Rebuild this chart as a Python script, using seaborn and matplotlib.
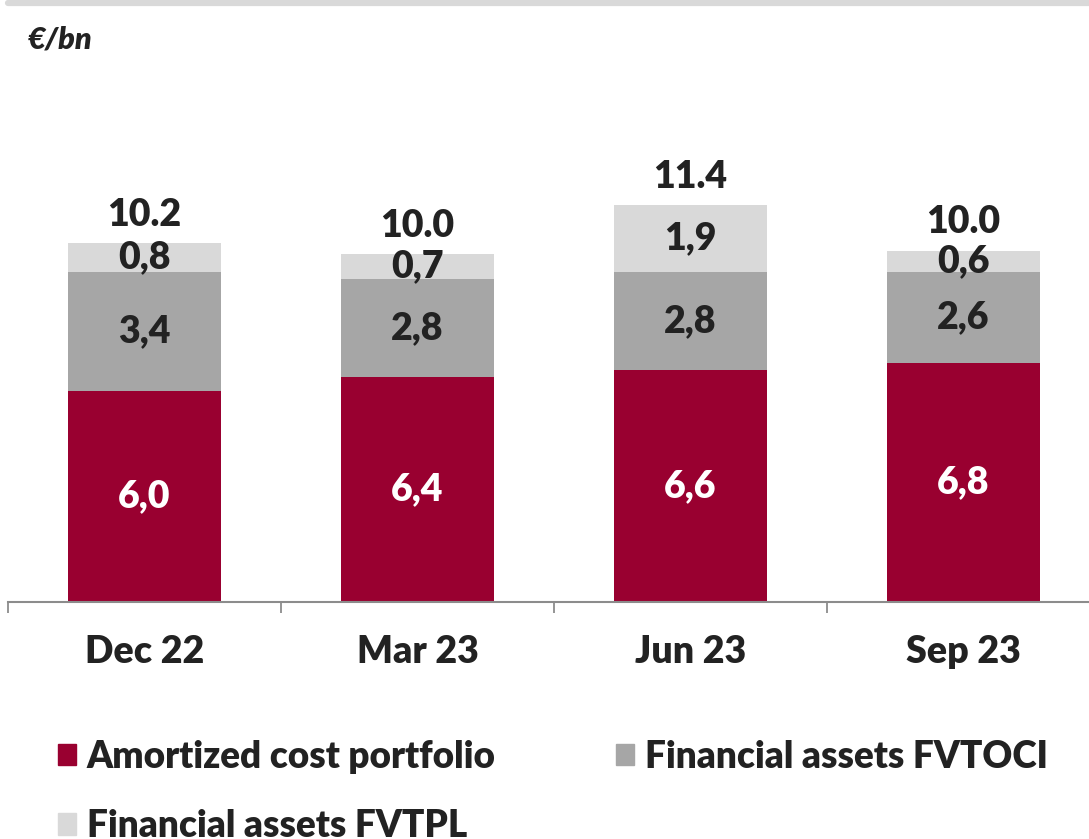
import matplotlib
matplotlib.use("Agg")
import numpy as np
import pandas as pd
import seaborn as sns
import matplotlib.pyplot as plt
from matplotlib.patches import Patch
from matplotlib.lines import Line2D

# dati
periods = ["Dec 22", "Mar 23", "Jun 23", "Sep 23"]
amortized = [6.0, 6.4, 6.6, 6.8]
fvtoci = [3.4, 2.8, 2.8, 2.6]
fvtpl = [0.8, 0.7, 1.9, 0.6]
totals = ["10.2", "10.0", "11.4", "10.0"]
series_names = ["Amortized cost portfolio", "Financial assets FVTOCI", "Financial assets FVTPL"]

red = "#990030"
mid_gray = "#a6a6a6"
light_gray = "#d9d9d9"
txt = "#222222"

sns.set_theme(style="white")
plt.rcParams["font.family"] = ["Lato", "DejaVu Sans"]
plt.rcParams["font.weight"] = "heavy"
W = "heavy"

df = pd.DataFrame({"period": periods, "a": amortized, "b": fvtoci, "c": fvtpl})
df["ab"] = df["a"] + df["b"]
df["abc"] = df["ab"] + df["c"]

fig = plt.figure(figsize=(10.89, 8.39), dpi=100)
ax = fig.add_axes([8 / 1089, (839 - 602) / 839, 1092 / 1089, 602 / 839])

bw = 0.557
sns.barplot(data=df, x="period", y="abc", order=periods, color=light_gray, width=bw, saturation=1, linewidth=0, ax=ax)
sns.barplot(data=df, x="period", y="ab", order=periods, color=mid_gray, width=bw, saturation=1, linewidth=0, ax=ax)
sns.barplot(data=df, x="period", y="a", order=periods, color=red, width=bw, saturation=1, linewidth=0, ax=ax)

fs = 27
for i in range(len(periods)):
    a, b, c = amortized[i], fvtoci[i], fvtpl[i]
    ax.text(i, a / 2, f"{a:.1f}".replace(".", ","), ha="center", va="center",
            color="white", fontsize=fs, fontweight=W)
    ax.text(i, a + b / 2, f"{b:.1f}".replace(".", ","), ha="center", va="center",
            color=txt, fontsize=fs, fontweight=W)
    ax.text(i, a + b + c / 2, f"{c:.1f}".replace(".", ","), ha="center", va="center",
            color=txt, fontsize=fs, fontweight=W)
    ax.annotate(totals[i], (i, a + b + c), xytext=(0, 8), textcoords="offset points",
                ha="center", va="bottom", color=txt, fontsize=fs, fontweight=W)

ax.set_ylim(0, 602 / 35.15)
ax.set_xlim(-0.5, 3.5)
ax.set_xlabel("")
ax.set_ylabel("")
ax.set_yticks([])
for s in ["top", "right", "left"]:
    ax.spines[s].set_visible(False)
ax.spines["bottom"].set_color("#8c8c8c")
ax.spines["bottom"].set_linewidth(1.5)

ax.set_xticks(range(len(periods)))
ax.set_xticklabels(periods, fontsize=fs, fontweight=W, color=txt)
ax.tick_params(axis="x", which="major", length=0, pad=24)
ax.set_xticks(np.arange(-0.5, 4.0, 1.0), minor=True)
ax.tick_params(axis="x", which="minor", bottom=True, length=8, width=1.3, color="#8c8c8c", direction="out")

# linea grigia in alto
fig.add_artist(Line2D([8 / 1089, 1], [1 - 3 / 839, 1 - 3 / 839], color=light_gray, lw=4.5,
                      transform=fig.transFigure))
fig.text(28 / 1089, 1 - 40 / 839, "€/bn", fontsize=22, fontweight=W, fontstyle="italic",
         color=txt, va="center", ha="left")

handles = [Patch(color=red), Patch(color=light_gray), Patch(color=mid_gray)]
labels = [series_names[0], series_names[2], series_names[1]]
fig.legend(handles, labels, ncol=2, loc="upper left", bbox_to_anchor=(58 / 1089, 1 - 740 / 839),
           frameon=False, handlelength=0.5, handleheight=0.5, handletextpad=0.28,
           columnspacing=3.25, labelspacing=0.95, borderaxespad=0, borderpad=0,
           labelcolor=txt, prop={"weight": W, "size": 26.6})

fig.savefig("out.png", dpi=100)
